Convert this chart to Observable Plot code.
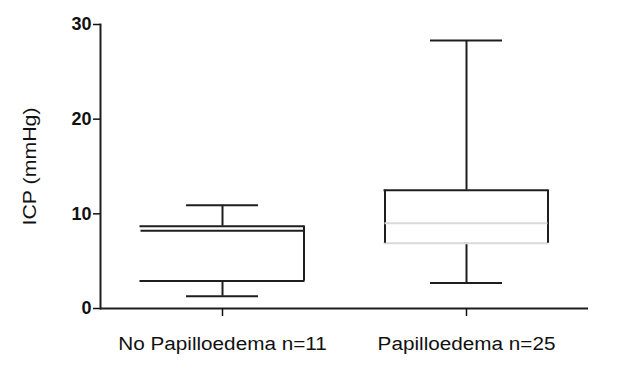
<!DOCTYPE html>
<html>
<head>
<meta charset="utf-8">
<script src="https://cdn.jsdelivr.net/npm/d3@7"></script>
<script src="https://cdn.jsdelivr.net/npm/@observablehq/plot@0.6"></script>
<style>
  html, body { margin: 0; padding: 0; background: #fff; }
  #chart svg { display: block; }
</style>
</head>
<body>
<div id="chart"></div>
<script>
const groups = ["No Papilloedema n=11", "Papilloedema n=25"];
const whiskerLow = [1.3, 2.7];
const q1 = [2.9, 6.9];
const median = [8.2, 9.0];
const q3 = [8.7, 12.5];
const whiskerHigh = [10.9, 28.3];
const yTicks = [0, 10, 20, 30];

const data = groups.map((g, i) => ({
  group: g, lo: whiskerLow[i], q1: q1[i], med: median[i], q3: q3[i], hi: whiskerHigh[i]
}));

const ink = "#1e1e1e";
const faint = "#d9d9d9";
const boxHalf = 81.5;
const boxInset = 40.5;
const capInset = 86;

const svg = Plot.plot({
  width: 640,
  height: 367,
  marginLeft: 100,
  marginRight: 52,
  marginTop: 24,
  marginBottom: 59,
  style: { fontFamily: "'Liberation Sans', Arial, sans-serif", color: "#111", background: "#fff" },
  x: { type: "band", domain: groups, padding: 0 },
  y: { domain: [0, 30] },
  marks: [
    Plot.frame({ anchor: "left", stroke: ink, strokeWidth: 2 }),
    Plot.ruleY([0], { stroke: ink, strokeWidth: 2 }),
    Plot.axisY({ ticks: yTicks, tickSize: 7, tickPadding: 2, fontSize: 18, fontWeight: "bold",
      strokeWidth: 1.5, label: "ICP (mmHg)", labelAnchor: "center", labelArrow: "none", labelOffset: 78 }),
    Plot.axisX({ tickSize: 8, tickPadding: 21, fontSize: 18, strokeWidth: 1.5, label: null }),
    // whiskers
    Plot.ruleX(data, { x: "group", y1: "lo", y2: "q1", stroke: ink, strokeWidth: 2 }),
    Plot.ruleX(data, { x: "group", y1: "q3", y2: "hi", stroke: ink, strokeWidth: 2 }),
    // whisker caps
    Plot.tickY(data, { x: "group", y: "lo", insetLeft: capInset, insetRight: capInset, stroke: ink, strokeWidth: 2 }),
    Plot.tickY(data, { x: "group", y: "hi", insetLeft: capInset, insetRight: capInset, stroke: ink, strokeWidth: 2 }),
    // box edges
    Plot.tickY(data, { x: "group", y: "q3", insetLeft: boxInset - 1, insetRight: boxInset - 1, stroke: ink, strokeWidth: 2 }),
    Plot.tickY(data, { x: "group", y: "q1", insetLeft: boxInset - 1, insetRight: boxInset - 1,
      stroke: d => d.group === groups[1] ? faint : ink, strokeWidth: 2 }),
    Plot.ruleX(data, { x: "group", y1: "q1", y2: "q3", dx: boxHalf, stroke: ink, strokeWidth: 2 }),
    Plot.ruleX(data.filter(d => d.group === groups[1]), { x: "group", y1: "q1", y2: "q3", dx: -boxHalf, stroke: ink, strokeWidth: 2 }),
    // medians
    Plot.tickY(data, { x: "group", y: "med", insetLeft: boxInset, insetRight: boxInset,
      stroke: d => d.group === groups[1] ? faint : ink, strokeWidth: 2 })
  ]
});

document.getElementById("chart").appendChild(svg);

// widen text along the baseline to match the reference's glyph proportions
const stretch = 1.15;
d3.select(svg).selectAll('g[aria-label="x-axis tick label"] text, g[aria-label="y-axis label"] text')
  .each(function () {
    const len = this.getComputedTextLength();
    this.setAttribute("textLength", (len * stretch).toFixed(1));
    this.setAttribute("lengthAdjust", "spacingAndGlyphs");
  });
d3.select(svg).selectAll('g[aria-label="y-axis label"] text').attr("font-size", 19).attr("font-weight", "normal");
</script>
</body>
</html>
